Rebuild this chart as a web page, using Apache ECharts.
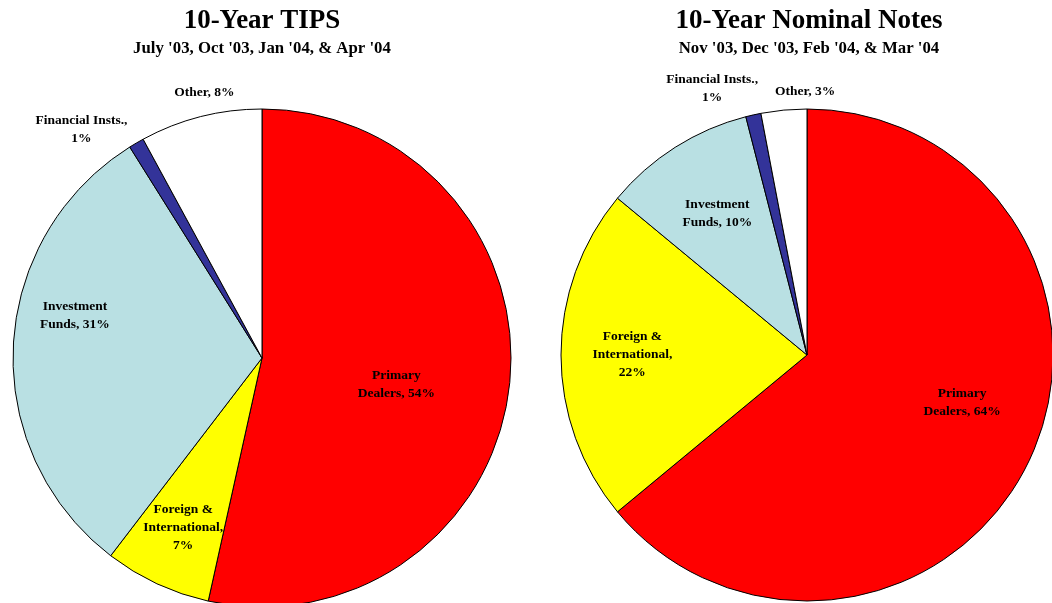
<!DOCTYPE html>
<html>
<head>
<meta charset="utf-8">
<script src="https://cdn.jsdelivr.net/npm/echarts@6/dist/echarts.min.js"></script>
<style>
  html, body { margin: 0; padding: 0; background: #fff; }
  #chart { width: 1052px; height: 603px; }
</style>
</head>
<body>
<div id="chart"></div>
<script>
var categories = ['Primary Dealers', 'Foreign & International', 'Investment Funds', 'Financial Insts.', 'Other'];
var tipsValues = [54, 7, 31, 1, 8];
var nominalValues = [64, 22, 10, 1, 3];
var tipsLabels = ['Primary\nDealers, 54%', 'Foreign &\nInternational,\n7%', 'Investment\nFunds, 31%', 'Financial Insts.,\n1%', 'Other, 8%'];
var nominalLabels = ['Primary\nDealers, 64%', 'Foreign &\nInternational,\n22%', 'Investment\nFunds, 10%', 'Financial Insts.,\n1%', 'Other, 3%'];
var colors = ['#FF0000', '#FFFF00', '#B9E0E3', '#333399', '#FFFFFF'];

var font = '"Liberation Serif", "Times New Roman", serif';

// where each label sits: share of the radius, and a small turn (degrees) off the slice middle
var tipsLabelDist = [0.55, 0.75, 0.77, 1.17, 1.09];
var tipsLabelTurn = [5, 0, 10, -8, 2];
var nominalLabelDist = [0.66, 0.71, 0.68, 1.15, 1.07];
var nominalLabelTurn = [-8, 0, 0, -7, 5];

var tipsCenter = [262, 358], tipsRadius = 249;
var nominalCenter = [807, 355], nominalRadius = 246;

function placeLabels(center, radius, dist, turn) {
  return function (p) {
    var r = p.labelRect;
    var lx = r.x + r.width / 2, ly = r.y + r.height / 2;
    var a = Math.atan2(ly - center[1], lx - center[0]) + turn[p.dataIndex] * Math.PI / 180;
    var d = radius * dist[p.dataIndex];
    return { x: center[0] + d * Math.cos(a), y: center[1] + d * Math.sin(a) };
  };
}

function pieSeries(values, labels, center, radius, dist, turn) {
  return {
    type: 'pie',
    center: center,
    radius: radius,
    startAngle: 90,
    clockwise: true,
    avoidLabelOverlap: false,
    silent: true,
    itemStyle: { borderColor: '#000', borderWidth: 1 },
    label: {
      show: true,
      position: 'inside',
      color: '#000',
      fontFamily: font,
      fontWeight: 'bold',
      fontSize: 13.5,
      lineHeight: 18,
      align: 'center',
      verticalAlign: 'middle',
      formatter: function (p) { return labels[p.dataIndex]; }
    },
    labelLine: { show: false },
    labelLayout: placeLabels(center, radius, dist, turn),
    data: values.map(function (v, i) {
      return { name: categories[i], value: v, itemStyle: { color: colors[i] } };
    })
  };
}

var chart = echarts.init(document.getElementById('chart'));
chart.setOption({
  animation: false,
  title: [
    {
      text: '10-Year TIPS',
      subtext: "July '03, Oct '03, Jan '04, & Apr '04",
      left: 262, top: 8, textAlign: 'center', padding: 0, itemGap: 5,
      textStyle: { fontFamily: font, fontWeight: 'bold', fontSize: 27, color: '#000' },
      subtextStyle: { fontFamily: font, fontWeight: 'bold', fontSize: 16.8, color: '#000' }
    },
    {
      text: '10-Year Nominal Notes',
      subtext: "Nov '03, Dec '03, Feb '04, & Mar '04",
      left: 809, top: 8, textAlign: 'center', padding: 0, itemGap: 5,
      textStyle: { fontFamily: font, fontWeight: 'bold', fontSize: 27, color: '#000' },
      subtextStyle: { fontFamily: font, fontWeight: 'bold', fontSize: 16.8, color: '#000' }
    }
  ],
  series: [
    pieSeries(tipsValues, tipsLabels, tipsCenter, tipsRadius, tipsLabelDist, tipsLabelTurn),
    pieSeries(nominalValues, nominalLabels, nominalCenter, nominalRadius, nominalLabelDist, nominalLabelTurn)
  ]
});
</script>
</body>
</html>
